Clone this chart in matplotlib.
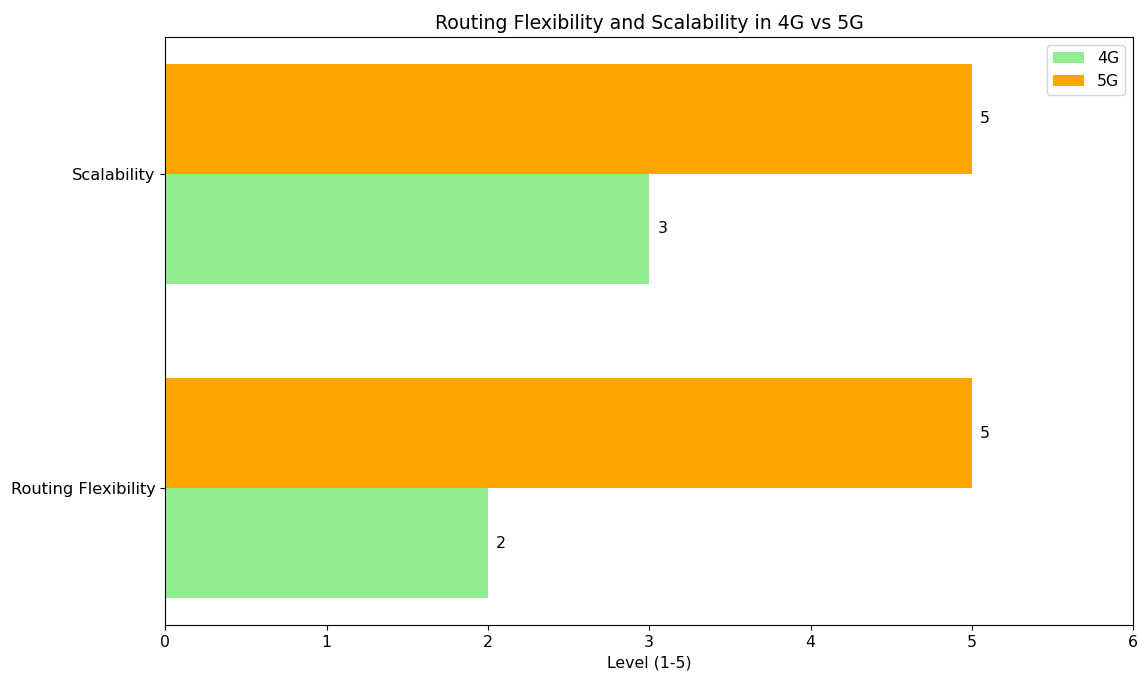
import numpy as np
import matplotlib
matplotlib.use("Agg")
import matplotlib.pyplot as plt

categories = ["Routing Flexibility", "Scalability"]
values_4g = [2, 3]
values_5g = [5, 5]

plt.rcParams['font.size'] = 11.3

fig = plt.figure(figsize=(11.39, 6.74), dpi=100)
ax = fig.add_axes([0.145, 0.073, 0.85, 0.872])

y = np.arange(len(categories))
h = 0.35
bars4 = ax.barh(y - h / 2, values_4g, h, label="4G", color="lightgreen")
bars5 = ax.barh(y + h / 2, values_5g, h, label="5G", color="orange")

for bars in (bars4, bars5):
    for b in bars:
        w = b.get_width()
        ax.text(w + 0.05, b.get_y() + b.get_height() / 2, str(w), va="center", ha="left")

ax.set_yticks(y)
ax.set_yticklabels(categories)
ax.tick_params(axis="y", labelsize=11.7)
ax.set_xlim(0, 6)
ax.set_xlabel("Level (1-5)")
ax.set_title("Routing Flexibility and Scalability in 4G vs 5G")
ax.legend(loc="upper right")

fig.savefig("out.png", dpi=100)
